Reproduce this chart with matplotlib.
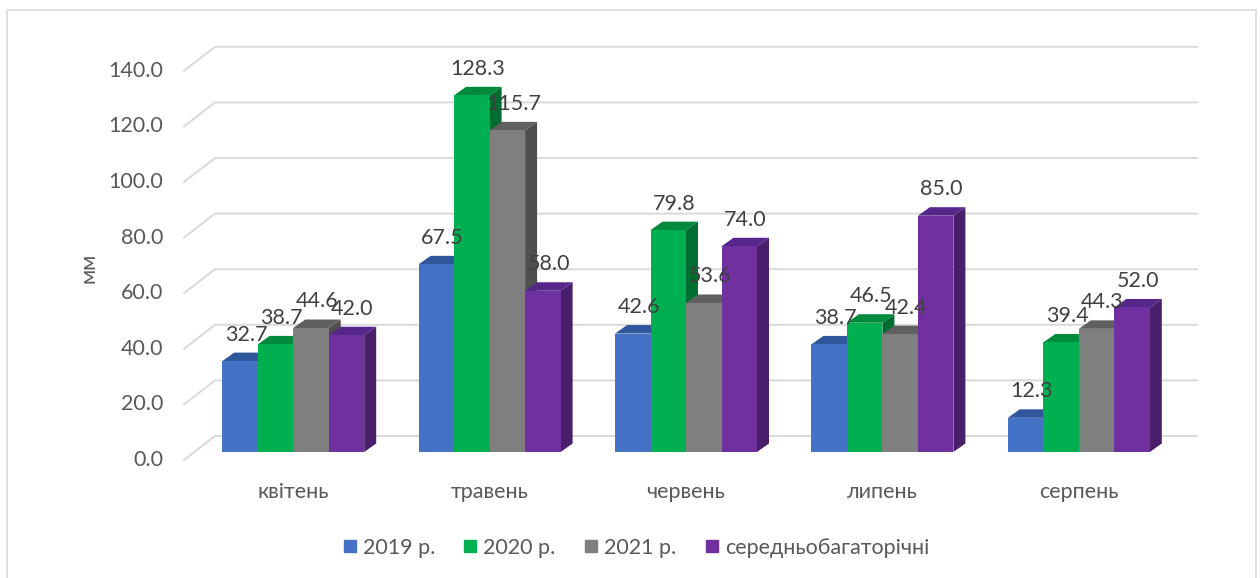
import numpy as np
import matplotlib
matplotlib.use("Agg")
import matplotlib.pyplot as plt
from matplotlib.patches import Polygon, Rectangle
from matplotlib.lines import Line2D

# Дані
months = ['квітень', 'травень', 'червень', 'липень', 'серпень']
series_names = ['2019 р.', '2020 р.', '2021 р.', 'середньобагаторічні']
y2019 = [32.7, 67.5, 42.6, 38.7, 12.3]
y2020 = [38.7, 128.3, 79.8, 46.5, 39.4]
y2021 = [44.6, 115.7, 53.6, 42.4, 44.3]
y_avg = [42.0, 58.0, 74.0, 85.0, 52.0]
yticks = [0, 20, 40, 60, 80, 100, 120, 140]

series = [y2019, y2020, y2021, y_avg]
front_colors = ['#4472C4', '#00B050', '#7F7F7F', '#7030A0']
top_colors = ['#30579C', '#008A3C', '#606060', '#55278A']
side_colors = ['#2A4A85', '#006E30', '#4F4F4F', '#491E6A']

plt.rcParams['font.family'] = ['Lato', 'DejaVu Sans']
FS = 15.5

W, H = 1260, 578
fig = plt.figure(figsize=(W / 100, H / 100), dpi=100)

# Рамка діаграми
fig.patches.append(Rectangle((7 / W, -0.05), (1256 - 7) / W, 1.05 - 10 / H,
                             transform=fig.transFigure, fill=False,
                             edgecolor='#d9d9d9', linewidth=1.2))

# Площина передніх граней стовпців (пікселі)
px_left, px_right = 195, 1177
px_base = 452
px_per_unit = 2.78
ymax = 150
ax = fig.add_axes([px_left / W, (H - px_base) / H,
                   (px_right - px_left) / W, ymax * px_per_unit / H])
ax.set_xlim(-0.5, 4.5)
ax.set_ylim(0, ymax)
ax.axis('off')

ux = (px_right - px_left) / 5.0  # пікселів на одиницю категорії
# зміщення для псевдо-3D
side_dx, side_dy = 12 / ux, 8.5 / px_per_unit
back_dx, back_dy = 20 / ux, 16 / px_per_unit
front_dx, front_dy = -11 / ux, -8 / px_per_unit

# Сітка на задній стінці + скіс до передньої осі
for v in yticks:
    ax.plot([-0.5 + front_dx, -0.5 + back_dx, 4.5 + back_dx],
            [v + front_dy, v + back_dy, v + back_dy],
            color='#d9d9d9', lw=1.4, clip_on=False, zorder=1)
    ax.annotate(f'{v:.1f}', xy=(-0.5 + front_dx, v + front_dy),
                xytext=(-15, 0), textcoords='offset points',
                ha='right', va='center', fontsize=FS, color='#595959',
                annotation_clip=False)

bar_w = 142 / ux / 4
for i in range(len(months)):
    x0 = i - 2 * bar_w
    for k, vals in enumerate(series):
        v = vals[i]
        xl = x0 + k * bar_w
        xr = xl + bar_w
        # бічна грань
        ax.add_patch(Polygon([(xr, 0), (xr + side_dx, side_dy),
                              (xr + side_dx, v + side_dy), (xr, v)],
                             closed=True, facecolor=side_colors[k],
                             edgecolor='none', zorder=3, clip_on=False))
        # верхня грань
        ax.add_patch(Polygon([(xl, v), (xl + side_dx, v + side_dy),
                              (xr + side_dx, v + side_dy), (xr, v)],
                             closed=True, facecolor=top_colors[k],
                             edgecolor='none', zorder=3, clip_on=False))
        # передня грань
        ax.bar(xl, v, width=bar_w, align='edge', color=front_colors[k],
               zorder=4, clip_on=False)

# Підписи значень
for i in range(len(months)):
    x0 = i - 2 * bar_w
    for k, vals in enumerate(series):
        v = vals[i]
        xc = x0 + (k + 0.5) * bar_w + side_dx / 2
        ax.annotate(f'{v:.1f}', xy=(xc, v + side_dy), xytext=(0, 13),
                    textcoords='offset points', ha='center', va='center',
                    fontsize=FS, color='#404040', zorder=6,
                    annotation_clip=False)

# Підписи категорій
for i, m in enumerate(months):
    ax.annotate(m, xy=(i, 0), xytext=(0, -29), textcoords='offset points',
                ha='center', va='center', fontsize=FS, color='#595959',
                annotation_clip=False)

fig.text(88 / W, 1 - 268 / H, 'мм', rotation=90, ha='center', va='center',
         fontsize=FS, color='#595959')

handles = [Line2D([], [], marker='s', linestyle='none', markersize=9,
                  markerfacecolor=c, markeredgecolor=c) for c in front_colors]
fig.legend(handles, series_names, loc='center', ncol=4,
           bbox_to_anchor=(634 / W, 1 - 548 / H), frameon=False,
           fontsize=FS, labelcolor='#595959', handletextpad=0.1,
           columnspacing=1.15, handlelength=1.0)

fig.savefig('out.png', dpi=100)
